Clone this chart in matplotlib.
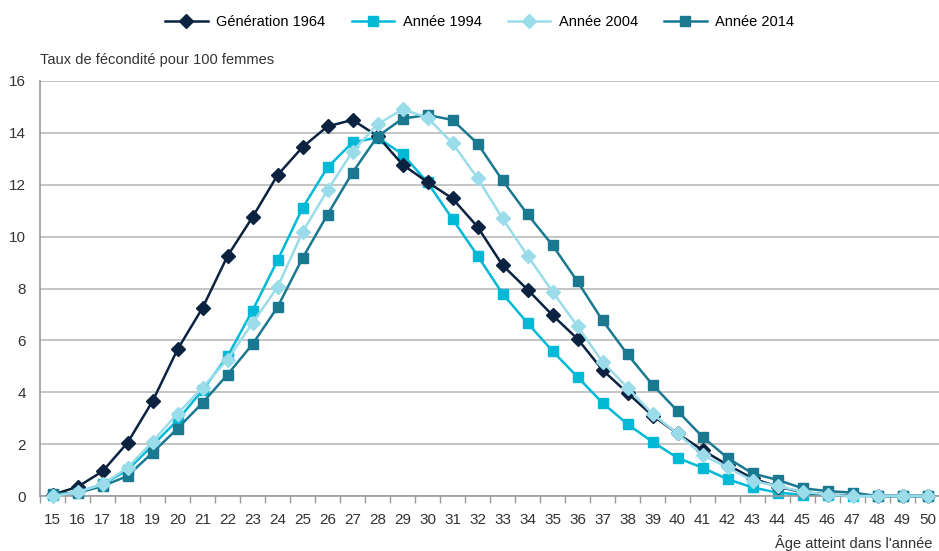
import numpy as np
import matplotlib
matplotlib.use("Agg")
import matplotlib.pyplot as plt

plt.rcParams['font.family'] = ['Liberation Sans Narrow', 'Liberation Sans', 'DejaVu Sans']

# Data
ages = list(range(15, 51))
gen_1964 = [0.05, 0.35, 0.95, 2.05, 3.65, 5.65, 7.25, 9.25, 10.75, 12.37, 13.45, 14.25,
            14.5, 13.88, 12.78, 12.1, 11.47, 10.38, 8.9, 7.96, 6.97, 6.06, 4.86, 3.97,
            3.1, 2.41, 1.77, 1.2, 0.68, 0.36, 0.15, 0.05, 0.02, 0.0, 0.0, 0.0]
annee_1994 = [0.03, 0.15, 0.45, 1.0, 1.95, 2.92, 4.08, 5.38, 7.15, 9.08, 11.1, 12.67,
              13.63, 13.82, 13.18, 12.09, 10.68, 9.27, 7.8, 6.67, 5.59, 4.59, 3.59, 2.77,
              2.09, 1.47, 1.09, 0.65, 0.33, 0.13, 0.05, 0.02, 0.0, 0.0, 0.0, 0.0]
annee_2004 = [0.0, 0.15, 0.45, 1.09, 2.09, 3.18, 4.17, 5.26, 6.67, 8.05, 10.17, 11.79,
              13.28, 14.33, 14.91, 14.59, 13.6, 12.26, 10.7, 9.27, 7.88, 6.55, 5.17, 4.18,
              3.16, 2.41, 1.58, 1.1, 0.59, 0.38, 0.17, 0.05, 0.0, 0.0, 0.0, 0.0]
annee_2014 = [0.08, 0.12, 0.38, 0.77, 1.67, 2.6, 3.59, 4.68, 5.85, 7.28, 9.17, 10.85,
              12.47, 13.86, 14.55, 14.69, 14.5, 13.59, 12.17, 10.86, 9.67, 8.27, 6.77, 5.46,
              4.29, 3.28, 2.28, 1.47, 0.87, 0.62, 0.3, 0.19, 0.13, 0.0, 0.0, 0.0]

series = [
    ('Génération 1964', gen_1964, '#0B2341', 'D', 7.2, 3),
    ('Année 1994', annee_1994, '#00B9D6', 's', 7.5, 2),
    ('Année 2004', annee_2004, '#9ADCEA', 'D', 7.2, 5),
    ('Année 2014', annee_2014, '#1A7891', 's', 7.5, 4),
]

fig = plt.figure(figsize=(9.39, 5.51), dpi=100)
ax = fig.add_axes([40 / 939, 1 - 496 / 551, 900 / 939, (496 - 81) / 551])

for label, vals, color, marker, ms, z in series:
    ax.plot(ages, vals, color=color, marker=marker, markersize=ms, linewidth=1.8,
            label=label, zorder=z, clip_on=False)

ax.set_xlim(14.5, 50.5)
ax.set_ylim(0, 16)
ax.set_yticks(range(0, 17, 2))
ax.set_xticks(ages)
ax.set_xticks(np.arange(14.5, 51, 1), minor=True)
ax.tick_params(axis='x', which='major', length=0, pad=12, labelsize=11, colors='#333333')
ax.tick_params(axis='x', which='minor', length=5, width=1, color='#999999')
ax.tick_params(axis='y', length=0, pad=10, labelsize=11, colors='#333333')

# Gridlines
ax.grid(True, axis='y', color='#BFBFBF', linewidth=1.3)
ax.set_axisbelow(True)
for s in ['top', 'right']:
    ax.spines[s].set_visible(False)
for s in ['left', 'bottom']:
    ax.spines[s].set_color('#999999')
    ax.spines[s].set_linewidth(1.2)

# Labels
fig.text(40 / 939, 1 - 60 / 551, 'Taux de fécondité pour 100 femmes', fontsize=10.5,
         color='#333333', ha='left', va='center')
fig.text(932 / 939, 1 - 543 / 551, "Âge atteint dans l'année", fontsize=10.5,
         color='#333333', ha='right', va='center')

fig.legend(loc='center', bbox_to_anchor=(0.511, 1 - 22 / 551), ncol=4, frameon=False,
           fontsize=10.5, handlelength=2.9, columnspacing=1.8, handletextpad=0.6)

fig.savefig('out.png', dpi=100)
